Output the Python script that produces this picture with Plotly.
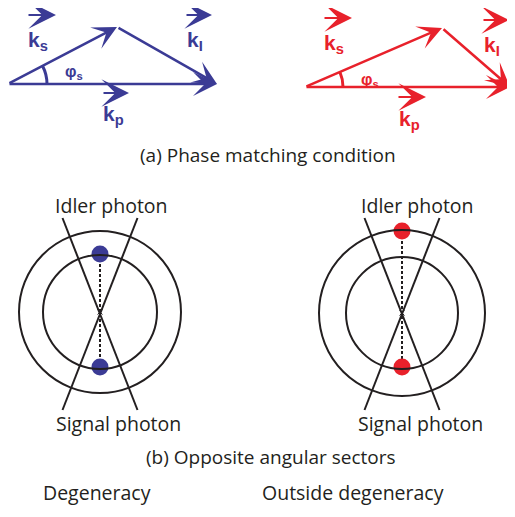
import math
import plotly.graph_objects as go

BLUE = "#3b3b95"
RED = "#e8212b"
INK = "#231f20"
FONT = "Open Sans"
PAGE = 8  # browser body margin around the plot div

# (a) wave-vector triangles: start, apex, end
blue_tri_x = [8, 117, 217]
blue_tri_y = [84, 27, 84]
red_tri_x = [305, 442, 510]
red_tri_y = [87, 28, 87]
arc_radius = [39, 38]

# k labels: name, label position, vector-arrow tail/head x, arrow y
k_names = ["s", "I", "p"]
blue_k_x = [38, 195, 113]
blue_k_y = [41, 41, 115]
blue_vec_x0 = [27, 185, 102]
blue_vec_x1 = [56, 212, 129]
blue_vec_y = [15, 15, 93]
red_k_x = [334, 492, 409]
red_k_y = [44, 46, 120]
red_vec_x0 = [323, 482, 397]
red_vec_x1 = [352, 509, 426]
red_vec_y = [18, 20, 97]
phi_x = [74, 370]
phi_y = [72, 80]

# (b) rings
ring_cx = [100, 402]
ring_cy = [312, 313]
ring_r_out = [81, 83]
ring_r_in = [57, 56]
cross_half_w = 37.5
cross_top = 218
cross_bot = 410
dot_y_top = [254, 231]
dot_y_bot = [367, 367]
dot_colors = [BLUE, RED]
idler_x = [111, 417]
signal_x = [118, 420]

fig = go.Figure()
ann = []


def arrow(x0, y0, x1, y1, color, width, size):
    ann.append(dict(x=x1, y=y1, ax=x0, ay=y0, xref="x", yref="y", axref="x", ayref="y",
                    text="", showarrow=True, arrowhead=3, arrowsize=size,
                    arrowwidth=width, arrowcolor=color, standoff=0, startstandoff=0))


def triangle(tx, ty, color, r, kx, ky, vx0, vx1, vy, px, py):
    arrow(tx[0], ty[0], tx[1], ty[1], color, 2.5, 1.6)
    arrow(tx[1], ty[1], tx[2], ty[2], color, 2.5, 1.6)
    arrow(tx[0], ty[0], tx[2], ty[2], color, 2.5, 1.6)
    # angle arc at the start vertex (quadratic approximation)
    th = math.atan2(ty[0] - ty[1], tx[1] - tx[0])
    ex, ey = tx[0] + r * math.cos(th), ty[0] - r * math.sin(th)
    rc = r / math.cos(th / 2)
    cx, cy = tx[0] + rc * math.cos(th / 2), ty[0] - rc * math.sin(th / 2)
    fig.add_shape(type="path", path=f"M {tx[0] + r} {ty[0]} Q {cx} {cy} {ex} {ey}",
                  line=dict(color=color, width=3))
    for name, x, y, a, b, yy in zip(k_names, kx, ky, vx0, vx1, vy):
        ann.append(dict(x=x, y=y, xref="x", yref="y", showarrow=False,
                        text=f"<b>k<sub>{name}</sub></b>",
                        font=dict(family="Liberation Sans", size=21, color=color)))
        arrow(a, yy, b, yy, color, 2, 2.3)
    ann.append(dict(x=px, y=py, xref="x", yref="y", showarrow=False,
                    text="<b>φ<sub>s</sub></b>",
                    font=dict(family="Liberation Sans", size=16, color=color)))


triangle(blue_tri_x, blue_tri_y, BLUE, arc_radius[0], blue_k_x, blue_k_y,
         blue_vec_x0, blue_vec_x1, blue_vec_y, phi_x[0], phi_y[0])
triangle(red_tri_x, red_tri_y, RED, arc_radius[1], red_k_x, red_k_y,
         red_vec_x0, red_vec_x1, red_vec_y, phi_x[1], phi_y[1])

for i in range(2):
    cx, cy = ring_cx[i], ring_cy[i]
    for r in (ring_r_out[i], ring_r_in[i]):
        fig.add_shape(type="circle", x0=cx - r, x1=cx + r, y0=cy - r, y1=cy + r,
                      line=dict(color=INK, width=2))
    fig.add_trace(go.Scatter(x=[cx - cross_half_w, cx + cross_half_w], y=[cross_top, cross_bot],
                             mode="lines", line=dict(color=INK, width=2)))
    fig.add_trace(go.Scatter(x=[cx + cross_half_w, cx - cross_half_w], y=[cross_top, cross_bot],
                             mode="lines", line=dict(color=INK, width=2)))
    fig.add_trace(go.Scatter(x=[cx, cx], y=[dot_y_top[i], dot_y_bot[i]], mode="lines",
                             line=dict(color=INK, width=2, dash="3px,2px")))
    fig.add_trace(go.Scatter(x=[cx], y=[cy], mode="markers",
                             marker=dict(symbol="x-thin", size=5, line=dict(color=INK, width=1))))
    fig.add_trace(go.Scatter(x=[cx, cx], y=[dot_y_top[i], dot_y_bot[i]], mode="markers",
                             marker=dict(color=dot_colors[i], size=17)))
    ann.append(dict(x=idler_x[i], y=205, xref="x", yref="y", showarrow=False,
                    text="Idler photon", font=dict(family=FONT, size=19.5, color=INK)))
    ann.append(dict(x=signal_x[i], y=423, xref="x", yref="y", showarrow=False,
                    text="Signal photon", font=dict(family=FONT, size=19.5, color=INK)))

ann.append(dict(x=268, y=155, xref="x", yref="y", showarrow=False,
                text="(a) Phase matching condition", font=dict(family=FONT, size=19, color=INK)))
ann.append(dict(x=271, y=457, xref="x", yref="y", showarrow=False,
                text="(b) Opposite angular sectors", font=dict(family=FONT, size=19, color=INK)))
ann.append(dict(x=97, y=492, xref="x", yref="y", showarrow=False,
                text="Degeneracy", font=dict(family=FONT, size=19.5, color=INK)))
ann.append(dict(x=260, y=492, xref="x", yref="y", showarrow=False, xanchor="left",
                text="Outside degeneracy", font=dict(family=FONT, size=19.5, color=INK)))

fig.update_layout(width=515, height=517, margin=dict(l=0, r=0, t=0, b=0),
                  paper_bgcolor="white", plot_bgcolor="white", showlegend=False,
                  annotations=ann,
                  xaxis=dict(range=[PAGE, 515 + PAGE], visible=False, fixedrange=True),
                  yaxis=dict(range=[517 + PAGE, PAGE], visible=False, fixedrange=True))
fig.write_html("out.html")
